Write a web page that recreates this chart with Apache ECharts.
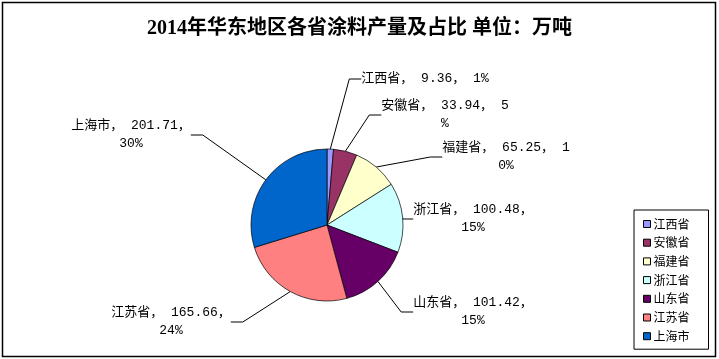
<!DOCTYPE html>
<html>
<head>
<meta charset="utf-8">
<script src="https://cdn.jsdelivr.net/npm/echarts@6/dist/echarts.min.js"></script>
<style>html,body{margin:0;padding:0;background:#fff}#c{width:719px;height:359px}</style>
</head>
<body>
<div id="c"></div>
<script>
var categories = ['江西省', '安徽省', '福建省', '浙江省', '山东省', '江苏省', '上海市'];
var values = [9.36, 33.94, 65.25, 100.48, 101.42, 165.66, 201.71];
var colors = ['#9999FF', '#993366', '#FFFFCC', '#CCFFFF', '#660066', '#FF8080', '#0066CC'];
var titleText = '2014年华东地区各省涂料产量及占比 单位：万吨';

var total = values.reduce(function (a, b) { return a + b; }, 0);
// where each label wraps (character index in the label string), -1 = no wrap
var labelBreakAt = [-1, 13, 13, 12, 12, 12, 12];
// label block positions (center x, top y)
var labelPos = [[425, 70], [445, 97], [506, 139], [473, 201], [473, 294], [171, 304], [131, 117]];

var chart = echarts.init(document.getElementById('c'), null, {renderer: 'canvas'});
var font = "'Liberation Mono','Noto Sans CJK SC',monospace";
chart.setOption({
  backgroundColor: '#fff',
  animation: false,
  title: {
    text: titleText,
    left: 'center',
    top: 14,
    textStyle: {fontFamily: "'Liberation Serif','Noto Sans CJK SC',serif", fontWeight: 'bold', fontSize: 20, color: '#000'}
  },
  legend: {
    orient: 'vertical',
    left: 634,
    top: 210,
    padding: [8, 19, 7, 9],
    itemWidth: 7,
    itemHeight: 7,
    itemGap: 6.7,
    icon: 'rect',
    borderColor: '#000',
    borderWidth: 1,
    itemStyle: {borderColor: '#000', borderWidth: 1},
    textStyle: {fontFamily: "'Noto Sans CJK SC',sans-serif", fontSize: 12, color: '#000', padding: [0, 0, 0, -2]},
    data: categories
  },
  graphic: [{
    type: 'rect',
    shape: {x: 2.5, y: 2.5, width: 713, height: 354},
    style: {fill: null, stroke: '#000', lineWidth: 1.5},
    silent: true,
    z: 100
  }],
  series: [{
    type: 'pie',
    center: [327, 225],
    radius: 76,
    startAngle: 90,
    clockwise: true,
    avoidLabelOverlap: false,
    itemStyle: {borderColor: '#000', borderWidth: 0.7},
    label: {
      show: true,
      position: 'outside',
      fontFamily: font,
      fontSize: 13,
      lineHeight: 18,
      color: '#000',
      align: 'center',
      formatter: function (p) {
        var pct = Math.round(values[p.dataIndex] / total * 100);
        var s = p.name + '， ' + values[p.dataIndex].toFixed(2) + '， ' + pct + '%';
        var b = labelBreakAt[p.dataIndex];
        if (b > 0) s = s.slice(0, b).replace(/\s+$/, '') + '\n' + s.slice(b).replace(/^\s+/, '');
        return s;
      }
    },
    labelLine: {show: true, length: 10, length2: 12, lineStyle: {color: '#000', width: 1}},
    labelLayout: function (params) {
      var pos = labelPos[params.dataIndex];
      return {x: pos[0], y: pos[1], align: 'center', verticalAlign: 'top'};
    },
    data: categories.map(function (c, i) {
      return {name: c, value: values[i], itemStyle: {color: colors[i]}};
    })
  }]
});
</script>
</body>
</html>
